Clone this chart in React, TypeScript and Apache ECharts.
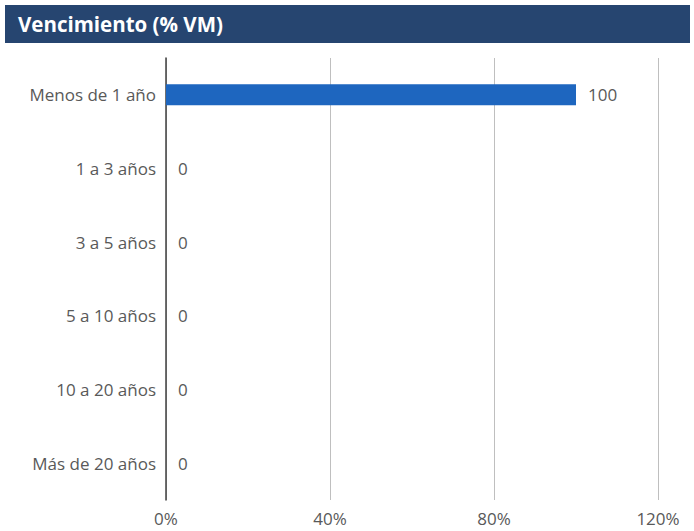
import React, { useEffect, useRef } from "react";
import * as echarts from "echarts";

const TITLE = "Vencimiento (% VM)";
const categories = ["Menos de 1 año", "1 a 3 años", "3 a 5 años", "5 a 10 años", "10 a 20 años", "Más de 20 años"];
const values = [100, 0, 0, 0, 0, 0];
const xTicks = { min: 0, max: 120, interval: 40 };

const FONT = "'Open Sans', 'Noto Sans', sans-serif";

export default function App() {
  const ref = useRef<HTMLDivElement>(null);
  useEffect(() => {
    if (!ref.current) return;
    const chart = echarts.init(ref.current, null, { renderer: "svg" });
    chart.setOption({
      animation: false,
      backgroundColor: "#ffffff",
      textStyle: { fontFamily: FONT },
      graphic: [
        {
          type: "rect",
          shape: { x: 5, y: 5, width: 685, height: 38 },
          style: { fill: "#264570" },
        },
        {
          type: "text",
          x: 18,
          y: 24,
          style: {
            text: TITLE,
            fill: "#ffffff",
            font: `bold 20.5px ${FONT}`,
            textVerticalAlign: "middle",
          },
        },
      ],
      grid: { left: 166, right: 36, top: 58, bottom: 31, containLabel: false },
      xAxis: {
        type: "value",
        min: xTicks.min,
        max: xTicks.max,
        interval: xTicks.interval,
        axisLine: { show: false },
        axisTick: { show: false },
        splitLine: { show: true, lineStyle: { color: "#bfbfbf", width: 1 } },
        axisLabel: {
          formatter: "{value}%",
          color: "#595959",
          fontSize: 17,
          fontFamily: FONT,
          margin: 10,
        },
      },
      yAxis: {
        type: "category",
        data: categories,
        inverse: true,
        axisLine: { show: true, lineStyle: { color: "#404040", width: 1.5 } },
        axisTick: { show: false },
        axisLabel: { color: "#595959", fontSize: 17, fontFamily: FONT, margin: 10 },
      },
      series: [
        {
          type: "bar",
          data: values,
          barWidth: 21,
          itemStyle: { color: "#1e66bf" },
          label: {
            show: true,
            position: "right",
            distance: 12,
            color: "#595959",
            fontSize: 17,
            fontFamily: FONT,
          },
        },
      ],
    });
    return () => chart.dispose();
  }, []);
  return <div ref={ref} style={{ width: 694, height: 531, position: "absolute", left: 0, top: 0 }} />;
}
